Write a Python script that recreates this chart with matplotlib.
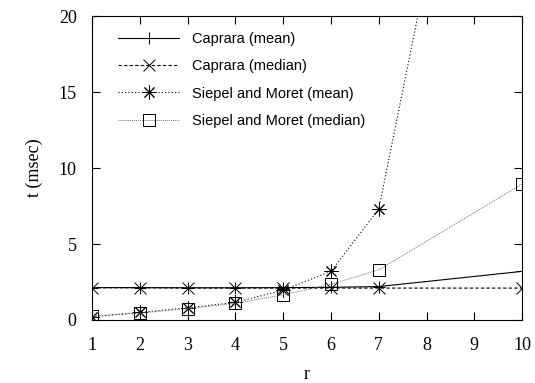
import matplotlib
matplotlib.use("Agg")
import matplotlib.pyplot as plt

r = [1, 2, 3, 4, 5, 6, 7, 10]
caprara_mean = [2.13, 2.13, 2.12, 2.12, 2.13, 2.15, 2.2, 3.2]
caprara_median = [2.12, 2.12, 2.1, 2.1, 2.1, 2.1, 2.1, 2.1]
siepel_mean = [0.22, 0.5, 0.8, 1.16, 1.97, 3.2, 7.3, 54.0]
siepel_median = [0.25, 0.45, 0.75, 1.1, 1.65, 2.35, 3.3, 8.95]

xticks = list(range(1, 11))
yticks = [0, 5, 10, 15, 20]

plt.rcParams['font.family'] = ['Liberation Serif', 'DejaVu Serif']

fig = plt.figure(figsize=(5.35, 3.83), dpi=100)
ax = fig.add_axes([0.172, 0.1645, 0.804, 0.7935])

lw = 0.8
ax.plot(r, caprara_mean, color='black', lw=lw, linestyle='-',
        marker='+', markersize=9, markeredgewidth=0.7, label='Caprara (mean)')
ax.plot(r, caprara_median, color='black', lw=lw, linestyle=(0, (3, 2)),
        marker='x', markersize=8, markeredgewidth=0.7, label='Caprara (median)')
ax.plot(r, siepel_mean, color='black', lw=lw, linestyle=(0, (1, 2)),
        marker=(8, 2, 0), markersize=10, markeredgewidth=0.7,
        label='Siepel and Moret (mean)')
ax.plot(r, siepel_median, color='#777777', lw=0.7, linestyle=(0, (1, 1)),
        marker='s', markersize=8, markerfacecolor='none',
        markeredgecolor='black', markeredgewidth=0.7,
        label='Siepel and Moret (median)')

ax.set_xlim(1, 10)
ax.set_ylim(0, 20)
ax.set_xticks(xticks)
ax.set_yticks(yticks)
ax.tick_params(direction='in', length=6, width=0.8, top=True, right=True,
               labelsize=13)
ax.tick_params(axis='x', pad=12)
ax.tick_params(axis='y', pad=11)
for s in ax.spines.values():
    s.set_linewidth(0.8)

ax.set_xlabel('r', fontsize=13, labelpad=9)
ax.set_ylabel('t (msec)', fontsize=13, labelpad=11)

leg = ax.legend(loc='upper left', bbox_to_anchor=(0.03, 0.99), frameon=False,
                prop={'family': ['Liberation Sans', 'DejaVu Sans'], 'size': 10.5},
                handlelength=4.2, handletextpad=0.9, labelspacing=0.9)

fig.savefig('out.png', dpi=100)
